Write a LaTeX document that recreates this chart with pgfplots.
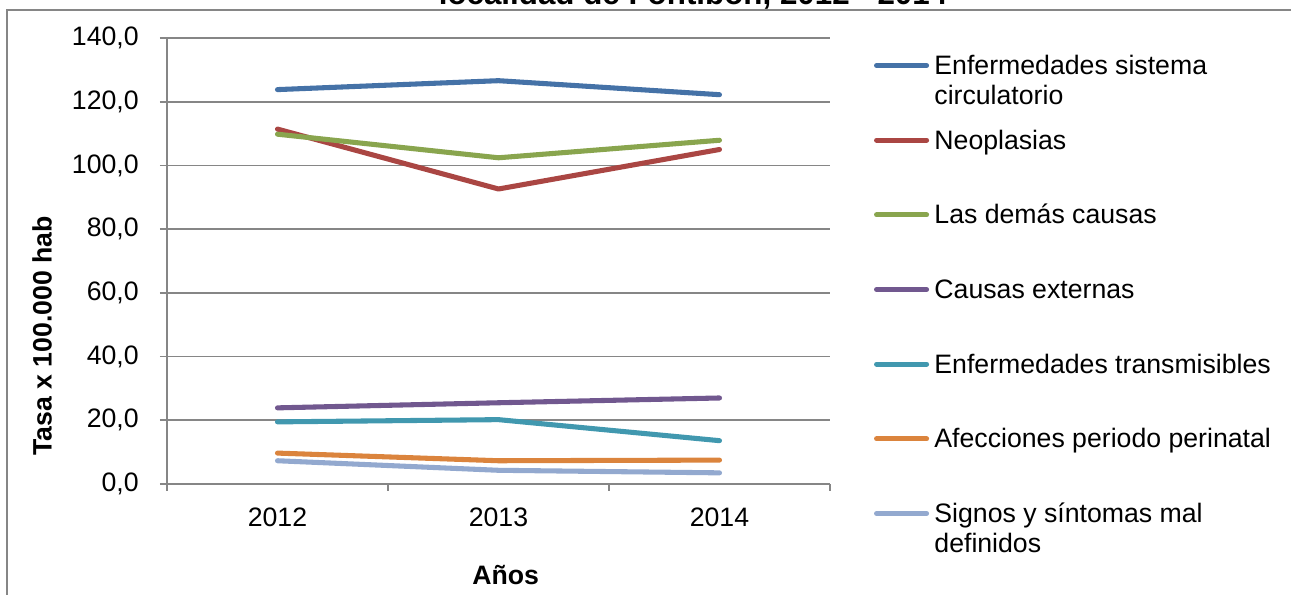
\documentclass[border=0pt]{standalone}
\usepackage{pgfplots}
\pgfplotsset{compat=1.18}
\usepackage{fontspec}
\setmainfont{Liberation Sans}
\definecolor{cA}{HTML}{4572A7}
\definecolor{cB}{HTML}{AA4643}
\definecolor{cC}{HTML}{89A54E}
\definecolor{cD}{HTML}{71588F}
\definecolor{cE}{HTML}{4198AF}
\definecolor{cF}{HTML}{DB843D}
\definecolor{cG}{HTML}{93A9CF}
\definecolor{gridgray}{RGB}{134,134,134}
\begin{document}
\begin{tikzpicture}
\draw[gridgray, line width=1.5pt] (5.25pt,-5pt) -- (5.25pt,439.1pt) -- (975pt,439.1pt);
\node[anchor=base, font=\bfseries\fontsize{23.5}{28}\selectfont] at (519.75pt,442.5pt) {localidad de Fontibón, 2012 - 2014};
\begin{axis}[
  at={(125.25pt,83.25pt)}, anchor=south west,
  scale only axis, width=497.25pt, height=334.5pt,
  xmin=-0.5, xmax=2.5, ymin=0, ymax=140,
  enlargelimits=false,
  axis x line=bottom, axis y line=left,
  axis line style={-, draw=gridgray, line width=1.3pt},
  xtick={-0.5,0.5,1.5,2.5}, xticklabels={,,,},
  extra x ticks={0,1,2}, extra x tick labels={2012,2013,2014},
  extra x tick style={major tick length=0pt},
  ytick={0,20,40,60,80,100,120,140},
  tick align=outside, major tick length=5.25pt,
  tick style={draw=gridgray, line width=1.3pt},
  ymajorgrids, grid style={draw=gridgray, line width=1.3pt},
  /pgf/number format/.cd, fixed, fixed zerofill, precision=1, use comma, assume math mode=true,
  /pgfplots/.cd,
  tick label style={font=\fontsize{20}{24}\selectfont, inner sep=0pt},
  yticklabel style={anchor=east},
  xticklabel style={anchor=north},
  yticklabel shift=15.75pt,
  xticklabel shift=17.6pt,
  xlabel={Años}, ylabel={Tasa x 100.000 hab},
  every axis x label/.style={at={(axis description cs:0.5107,-0.2253)}, anchor=base, font=\bfseries\fontsize{20}{24}\selectfont},
  every axis y label/.style={at={(axis description cs:-0.1885,0.332)}, rotate=90, anchor=center, font=\bfseries\fontsize{20}{24}\selectfont},
  legend style={at={(axis description cs:1.0664,0.978)}, anchor=north west, draw=none, fill=none, inner sep=0pt, outer sep=0pt, column sep=4pt, row sep=0pt, cells={anchor=base west}, nodes={inner sep=0pt, outer sep=0pt, text height=20pt, text depth=36pt, font=\fontsize{20}{22.5}\selectfont}},
  legend image code/.code={\draw[#1, line cap=round] (0pt,6.75pt) -- (37.5pt,6.75pt);},
  every axis plot/.append style={line width=3.8pt, line cap=round, line join=round, no markers},
]
\addplot[cA] coordinates {(0,123.8) (1,126.6) (2,122.2)};
\addlegendentry{\parbox[t]{300pt}{Enfermedades sistema\\circulatorio}}
\addplot[cB] coordinates {(0,111.4) (1,92.6) (2,105.0)};
\addlegendentry{Neoplasias}
\addplot[cC] coordinates {(0,109.8) (1,102.4) (2,107.9)};
\addlegendentry{Las demás causas}
\addplot[cD] coordinates {(0,23.9) (1,25.5) (2,27.0)};
\addlegendentry{Causas externas}
\addplot[cE] coordinates {(0,19.5) (1,20.2) (2,13.6)};
\addlegendentry{Enfermedades transmisibles}
\addplot[cF] coordinates {(0,9.7) (1,7.3) (2,7.5)};
\addlegendentry{Afecciones periodo perinatal}
\addplot[cG] coordinates {(0,7.3) (1,4.3) (2,3.5)};
\addlegendentry{\parbox[t]{300pt}{Signos y síntomas mal\\definidos}}
\end{axis}
\pgfresetboundingbox
\useasboundingbox (0,0) rectangle (968.25pt,446.25pt);
\end{tikzpicture}
\end{document}
